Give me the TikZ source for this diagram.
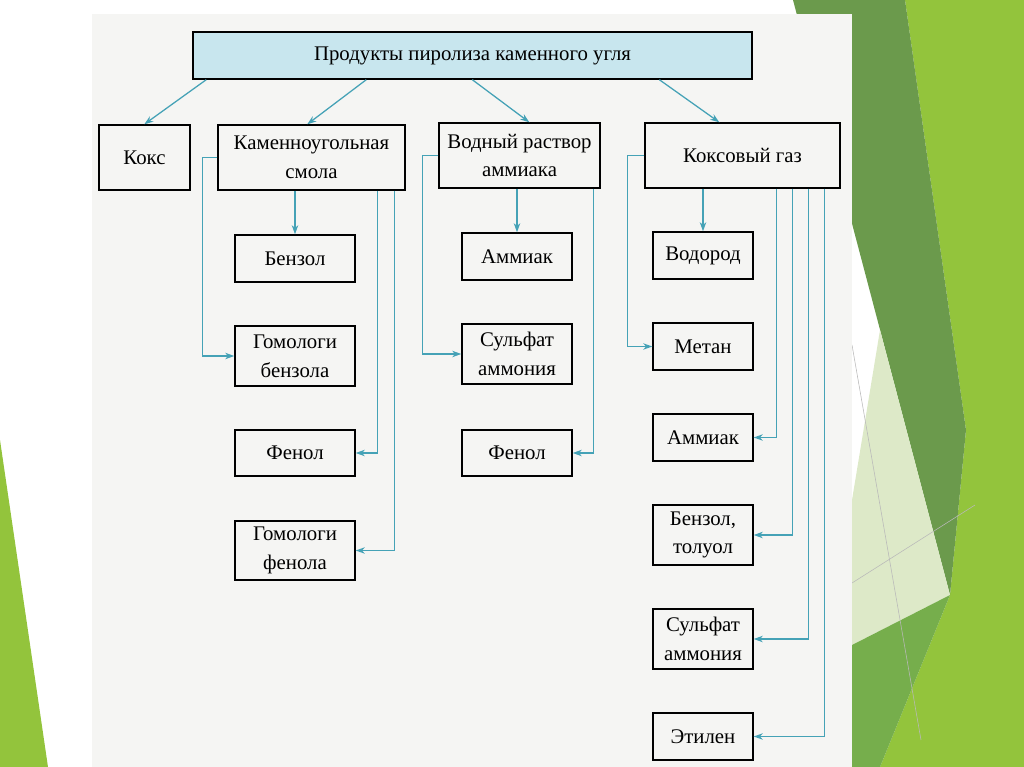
\documentclass[tikz,border=0pt]{standalone}
\usepackage{fontspec}
\setmainfont{Liberation Serif}
\usetikzlibrary{arrows.meta}
\definecolor{linkblue}{HTML}{45A2B6}
\definecolor{headfill}{HTML}{C8E6EE}
\definecolor{scanbg}{HTML}{F5F5F3}
\definecolor{leafdark}{HTML}{6B9A4C}
\definecolor{leafmid}{HTML}{76AE4C}
\definecolor{leaflight}{HTML}{93C43C}
\definecolor{leafpale}{HTML}{DDE9C8}

\begin{document}
\begin{tikzpicture}[
    x=0.025cm, y=-0.025cm,
    every node/.style={font=\fontsize{14.8}{20.5}\selectfont, align=center},
    box/.style={draw, line width=1pt, inner sep=2pt},
    topbox/.style={box, fill=headfill},
    arrow/.style={->, >={Stealth[length=6.5pt,width=4.6pt]}, linkblue, line width=0.9pt},
]
\useasboundingbox (0,0) rectangle (1024,767);
% slide background
\fill[leaflight] (905,0) -- (1024,0) -- (1024,767) -- (880,767) -- (950,595) -- (966,430) -- cycle;
\fill[leafdark] (793,0) -- (905,0) -- (966,430) -- (950,595) -- cycle;
\fill[leafpale] (852,500) -- (880,330) -- (950,595) -- (852,645) -- cycle;
\fill[leafmid] (852,645) -- (950,595) -- (880,767) -- (852,767) -- cycle;
\draw[gray!55, line width=0.4pt] (852,345) -- (921,740);
\draw[gray!55, line width=0.4pt] (852,583) -- (975,505);
\fill[leaflight] (0,440) -- (48,767) -- (0,767) -- cycle;
\fill[scanbg] (92,14) rectangle (852,767);

% top level
\node[topbox, minimum width=13.975cm, minimum height=1.175cm] (top) at (472.5,55.5) {Продукты пиролиза каменного угля};
\node[box, minimum width=2.275cm, minimum height=1.625cm] (kox) at (144.5,157.5) {Кокс};
\node[box, minimum width=4.675cm, minimum height=1.625cm] (smola) at (311.5,157.5) {Каменноугольная\\смола};
\node[box, minimum width=4.025cm, minimum height=1.625cm] (vodn) at (519.5,155.5) {Водный раствор\\аммиака};
\node[box, minimum width=4.875cm, minimum height=1.625cm] (gaz) at (742.5,155.5) {Коксовый газ};

% smola products
\node[box, minimum width=3cm, minimum height=1.175cm] (benz) at (295,258.5) {Бензол};
\node[box, minimum width=3cm, minimum height=1.5cm] (gomb) at (295,356) {Гомологи\\бензола};
\node[box, minimum width=3cm, minimum height=1.15cm] (fen1) at (295,453) {Фенол};
\node[box, minimum width=3cm, minimum height=1.475cm] (gomf) at (295,550.5) {Гомологи\\фенола};

% vodn products
\node[box, minimum width=2.75cm, minimum height=1.175cm] (amm2) at (517,256.5) {Аммиак};
\node[box, minimum width=2.75cm, minimum height=1.5cm] (sulf2) at (517,354) {Сульфат\\аммония};
\node[box, minimum width=2.75cm, minimum height=1.15cm] (fen2) at (517,453) {Фенол};

% gaz products
\node[box, minimum width=2.5cm, minimum height=1.175cm] (vod) at (703,255.5) {Водород};
\node[box, minimum width=2.5cm, minimum height=1.175cm] (met) at (703,346.5) {Метан};
\node[box, minimum width=2.5cm, minimum height=1.175cm] (amm3) at (703,437.5) {Аммиак};
\node[box, minimum width=2.5cm, minimum height=1.5cm] (bt) at (703,535) {Бензол,\\толуол};
\node[box, minimum width=2.5cm, minimum height=1.5cm] (sulf3) at (703,639) {Сульфат\\аммония};
\node[box, minimum width=2.5cm, minimum height=1.175cm] (etil) at (703,736.5) {Этилен};

% from the top box
\draw[arrow] ([xshift=0.35cm]top.south west) -- ([xshift=1.15cm]kox.north west);
\draw[arrow] ([xshift=4.35cm]top.south west) -- ([xshift=2.25cm]smola.north west);
\draw[arrow] ([xshift=7cm]top.south west) -- ([xshift=2.275cm]vodn.north west);
\draw[arrow] ([xshift=11.675cm]top.south west) -- ([xshift=1.875cm]gaz.north west);

% smola
\draw[arrow] (benz.north |- smola.south) -- (benz.north);
\draw[arrow] (smola.west) -- ++(-15,0) |- (gomb.west);
\draw[arrow] ([xshift=-0.7cm]smola.south east) |- (fen1.east);
\draw[arrow] ([xshift=-0.275cm]smola.south east) |- (gomf.east);

% vodn
\draw[arrow] (amm2.north |- vodn.south) -- (amm2.north);
\draw[arrow] (vodn.west) -- ++(-16,0) |- (sulf2.west);
\draw[arrow] ([xshift=-0.175cm]vodn.south east) |- (fen2.east);

% gaz
\draw[arrow] (vod.north |- gaz.south) -- (vod.north);
\draw[arrow] (gaz.west) -- ++(-17,0) |- (met.west);
\draw[arrow] ([xshift=-1.6cm]gaz.south east) |- (amm3.east);
\draw[arrow] ([xshift=-1.2cm]gaz.south east) |- (bt.east);
\draw[arrow] ([xshift=-0.8cm]gaz.south east) |- (sulf3.east);
\draw[arrow] ([xshift=-0.4cm]gaz.south east) |- (etil.east);
\end{tikzpicture}
\end{document}
